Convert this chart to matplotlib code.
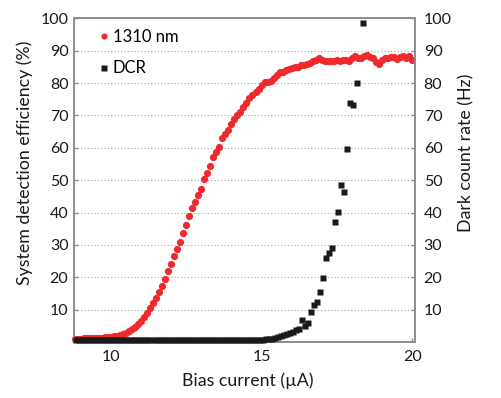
import numpy as np
import matplotlib
matplotlib.use("Agg")
import matplotlib.pyplot as plt
from matplotlib.lines import Line2D

plt.rcParams['font.family'] = ['Lato', 'DejaVu Sans']

# Bias current grid (µA) for SDE measurement
sde_bias = np.round(np.arange(8.8, 20.05, 0.1), 2)
sde_1310 = [
    1.0, 1.0, 1.0, 1.1, 1.1, 1.1, 1.2, 1.2, 1.3, 1.3,          # 8.8-9.7
    1.4, 1.5, 1.6, 1.7, 1.9, 2.1, 2.4, 2.8, 3.3, 3.9,          # 9.8-10.7
    4.7, 5.6, 6.6, 7.7, 9.0, 10.4, 12.0, 13.7, 15.5, 17.2,     # 10.8-11.7
    19.5, 21.8, 24.0, 26.5, 28.8, 30.9, 33.6, 36.2, 38.8, 41.3,  # 11.8-12.7
    43.3, 45.3, 47.4, 50.3, 52.3, 54.3, 57.0, 58.6, 60.2, 63.0,  # 12.8-13.7
    64.4, 65.6, 67.3, 68.8, 70.0, 71.0, 72.6, 73.8, 75.5, 76.4,  # 13.8-14.7
    77.2, 78.3, 79.4, 80.2, 80.3, 80.5, 81.6, 82.4, 83.3, 83.5,  # 14.8-15.7
    83.9, 84.2, 84.5, 84.9, 85.1, 85.5, 85.7, 86.0, 86.2, 86.8,  # 15.8-16.7
    87.2, 87.8, 87.1, 86.8, 86.8, 86.9, 86.9, 87.0, 86.8, 87.1,  # 16.8-17.7
    87.2, 86.9, 87.8, 88.2, 87.8, 87.6, 88.3, 88.6, 88.1, 87.6,  # 17.8-18.7
    86.6, 86.0, 87.2, 87.6, 87.8, 88.0, 87.9, 87.4, 88.0, 88.5,  # 18.8-19.7
    87.6, 88.4, 87.0,                                            # 19.8-20.0
]

# Bias current grid (µA) for dark count rate measurement
dcr_bias = np.round(np.arange(8.85, 18.4, 0.1), 2)
dcr_hz = [0.5] * 52 + [
    0.7, 0.6, 0.6, 0.6, 0.6, 0.6, 0.6, 0.6, 0.6, 0.7,          # 14.05-14.95
    0.7, 0.8, 0.9, 1.0, 1.2, 1.5, 1.9, 2.2, 2.4, 2.9,          # 15.05-15.95
    3.2, 3.6, 3.9, 6.7, 5.0, 5.8, 9.3, 11.5, 12.5, 15.4,       # 16.05-16.95
    19.7, 26.1, 27.6, 29.0, 37.2, 40.2, 48.4, 46.4, 59.7, 73.9,  # 17.05-17.95
    73.1, 80.0, np.nan, 98.4,                                    # 18.05-18.35
]

yticks = [10, 20, 30, 40, 50, 60, 70, 80, 90, 100]
xticks = [10, 15, 20]

red = '#EE2A2F'
spine_col = '#8C8C8C'
txt_col = '#1A1A1A'

fig = plt.figure(figsize=(5.01, 3.98), dpi=100)
ax = fig.add_axes([74/501, 1-342/398, 341.3/501, 323.7/398])
ax2 = ax.twinx()

ax.plot(sde_bias, sde_1310, 'o', color=red, ms=5.2, mec='none', zorder=3, clip_on=False)
ax2.plot(dcr_bias, dcr_hz, 's', color='#1A1A1A', ms=4.2, mec='none', zorder=3, clip_on=False)

for a in (ax, ax2):
    a.set_xlim(8.78, 20.1)
    a.set_ylim(0, 100)
    a.set_yticks(yticks)
    for s in a.spines.values():
        s.set_color(spine_col)
        s.set_linewidth(1.2)
    a.tick_params(direction='in', length=3, width=1, color=spine_col,
                  labelsize=11.5, labelcolor=txt_col)

ax.set_xticks(xticks)
ax.tick_params(axis='x', pad=6)
ax.tick_params(axis='y', pad=4)
ax2.tick_params(axis='y', pad=6)
for yv in yticks[:-1]:
    ax.axhline(yv, color='#A6A6A6', lw=0.8, ls=(0, (1, 2)), zorder=1)

ax.set_xlabel('Bias current (µA)', fontsize=12.8, color=txt_col)
ax.xaxis.set_label_coords((248 - 74)/341.3, -(381 - 342)/323.7)
ax.xaxis.label.set_va('center')

ax.set_ylabel('System detection efficiency (%)', fontsize=12.8, color=txt_col)
ax.yaxis.set_label_coords((25 - 74)/341.3, (342 - 163)/323.7)
ax.yaxis.label.set_va('center')

ax2.set_ylabel('Dark count rate (Hz)', fontsize=12.8, color=txt_col)
ax2.yaxis.set_label_coords((466 - 74)/341.3, (342 - 153)/323.7)
ax2.yaxis.label.set_va('center')

handles = [
    Line2D([], [], ls='none', marker='o', color=red, mec='none', ms=4.4, label='1310 nm'),
    Line2D([], [], ls='none', marker='s', color='#1A1A1A', mec='none', ms=3.8, label='DCR'),
]
ax2.legend(handles=handles, loc='upper left', frameon=False, fontsize=12,
           handlelength=0.6, handletextpad=0.25, labelspacing=0.95,
           borderaxespad=0.0, bbox_to_anchor=((92 - 74)/341.3, 1 - (22 - 18.3)/323.7))

fig.savefig('out.png', dpi=100)
